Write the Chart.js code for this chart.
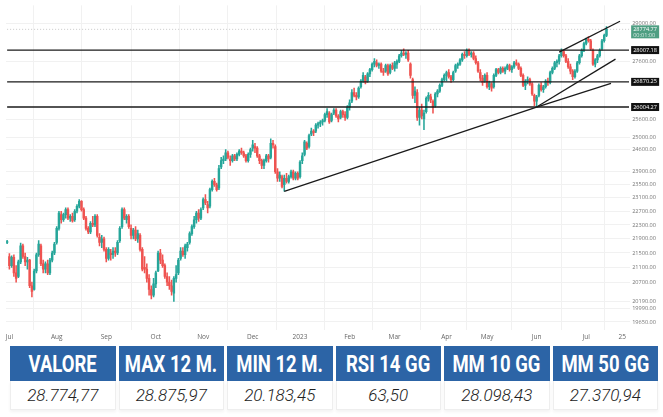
<!DOCTYPE html>
<html>
<head>
<meta charset="utf-8">
<script src="https://cdn.jsdelivr.net/npm/chart.js@4.4.0/dist/chart.umd.min.js"></script>
<style>
  html, body { margin: 0; padding: 0; background: #fff; }
  #wrap { position: relative; width: 663px; height: 417px; overflow: hidden; }
  #box { position: absolute; left: 0; top: 0; width: 663px; height: 345px; }
  #stats { position: absolute; left: 7px; top: 346px; width: 654px; border-collapse: separate; border-spacing: 3.5px 0; table-layout: fixed; }
  #stats th { background: #2c64a6; color: #fff; height: 35px; padding: 0; white-space: nowrap; text-align: center;
    font-family: Roboto, sans-serif; font-weight: bold; font-size: 22px; }
  #stats th span { display: inline-block; margin: 0 -40px; transform: scale(0.84, 1.12); }
  #stats td { height: 28px; padding: 0; text-align: center; color: #222; white-space: nowrap;
    font-family: Roboto, sans-serif; font-weight: 300; font-style: italic; font-size: 17px;
    border: 1px solid #eeeeee; border-top: none; box-shadow: 0 2px 3px rgba(0,0,0,0.05); }
</style>
</head>
<body>
<div id="wrap">
  <div id="box"><canvas id="chart"></canvas></div>
  <table id="stats"><tr id="statHead"></tr><tr id="statBody"></tr></table>
</div>
<script>
// trading calendar (Borsa Italiana), last slots after Jul 14 are empty future space
const holidays = ["2022-08-15", "2022-12-26", "2023-04-07", "2023-04-10", "2023-05-01"];
const firstDay = "2022-06-30";
const lastSlot = "2023-07-28";

// daily OHLC, one line per month (Jun 30 2022 -> Jul 14 2023)
const openV = [
  21800, 21400, 21150, 21380, 20950, 20850, 21250, 21700, 21400, 21250, 21300, 20600, 20500, 21000, 21450, 21700, 21200, 21050, 21200, 20950, 21300, 21500,
  21800, 22200, 22600, 22450, 22600, 22750, 22500, 22550, 22450, 22700, 22850, 23000, 22750, 22500, 22200, 22100, 22350, 22300, 22550, 21950, 21800, 21900,
  21600, 21350, 21500, 21450, 21550, 21500, 21850, 22250, 22750, 22450, 22550, 22200, 22000, 22150, 21900, 22000, 21600, 21100, 21050, 20800, 20500, 20350,
  20650, 21000, 21500, 21300, 21150, 20850, 20700, 20600, 20400, 20800, 20950, 21350, 21550, 21450, 21650, 21800, 22050, 22250, 22450, 22650, 22500,
  22800, 23050, 22900, 22850, 23350, 23600, 23500, 23400, 24050, 24250, 24300, 24500, 24300, 24250, 24400, 24300, 24450, 24550, 24500, 24400, 24250, 24450,
  24650, 24700, 24650, 24400, 24250, 24100, 24250, 24400, 24350, 24800, 24700, 23900, 23700, 23750, 23500, 23700, 23600, 23750, 23900, 23700, 23850,
  23750, 24250, 24450, 24800, 24700, 25100, 25200, 25200, 25400, 25450, 25500, 25550, 25750, 25800, 25550, 25800, 25900, 25700, 25650, 25850, 25750, 25650,
  26000, 26200, 26500, 26400, 26350, 26700, 26900, 27050, 26900, 27150, 27300, 27500, 27550, 27450, 27500, 27250, 27250, 27450, 27200, 27450,
  27350, 27500, 27600, 27800, 27900, 27850, 27900, 27500, 26950, 26400, 26500, 25650, 25900, 25600, 25850, 26300, 26350, 26200, 26050, 26450, 26550, 26750, 26950,
  27100, 27200, 27050, 26950, 27250, 27450, 27500, 27650, 27850, 27800, 28000, 27850, 27900, 27700, 27550, 27200, 27000, 26900,
  27100, 26700, 26800, 26700, 27100, 27300, 27200, 27350, 27250, 27350, 27450, 27300, 27400, 27550, 27500, 27350, 27100, 26750, 26900, 26950, 26800, 26400,
  26200, 26400, 26750, 26600, 26700, 26900, 26850, 27200, 27350, 27550, 27600, 27800, 27950, 27800, 27600, 27400, 27250, 27050, 27250, 27550, 27800, 28000,
  28250, 28400, 28350, 28000, 27500, 27650, 27800, 28050, 28350, 28550
];
const highV = [
  21860, 21480, 21420, 21450, 21150, 21300, 21780, 21750, 21500, 21380, 21320, 20700, 21050, 21500, 21850, 21750, 21300, 21250, 21300, 21350, 21550, 21800,
  22250, 22700, 22700, 22650, 22800, 22800, 22600, 22650, 22750, 22900, 23050, 23020, 22800, 22550, 22250, 22400, 22550, 22600, 22600, 22050, 22000, 21950,
  21650, 21650, 21600, 21650, 21650, 21850, 22250, 22800, 22800, 22600, 22600, 22300, 22200, 22250, 22150, 22050, 21650, 21400, 21200, 20900, 20600, 20800,
  21000, 21550, 21600, 21450, 21200, 20950, 20850, 20750, 20850, 21150, 21350, 21650, 21650, 21750, 21800, 22100, 22300, 22550, 22700, 22750, 22800,
  23100, 23200, 23000, 23400, 23650, 23700, 23550, 24100, 24350, 24400, 24600, 24550, 24400, 24450, 24450, 24500, 24600, 24650, 24550, 24450, 24500, 24650,
  24900, 24800, 24700, 24450, 24300, 24300, 24450, 24450, 24950, 24900, 24750, 24000, 23900, 23800, 23800, 23850, 23800, 23950, 23950, 23900, 23900,
  24250, 24500, 24900, 24850, 25100, 25300, 25250, 25450, 25500, 25550, 25600, 25800, 25950, 25850, 25800, 25950, 25950, 25750, 25900, 25900, 25850, 26050,
  26250, 26600, 26650, 26500, 26700, 26950, 27200, 27100, 27200, 27350, 27550, 27700, 27650, 27550, 27550, 27350, 27500, 27500, 27500, 27550,
  27600, 27650, 27850, 28000, 28050, 27950, 28000, 27550, 27000, 26700, 26600, 26000, 26100, 25900, 26350, 26500, 26450, 26250, 26500, 26600, 26800, 27000, 27150,
  27250, 27300, 27100, 27250, 27500, 27550, 27700, 27900, 27950, 28050, 28050, 27950, 27950, 27800, 27600, 27300, 27100, 27150,
  27200, 26900, 26850, 27150, 27350, 27350, 27400, 27400, 27400, 27500, 27500, 27450, 27600, 27650, 27550, 27400, 27150, 26950, 27050, 27000, 26850, 26450,
  26400, 26800, 26850, 26750, 26950, 27000, 27250, 27400, 27600, 27650, 27850, 28050, 28000, 27850, 27700, 27500, 27300, 27300, 27600, 27850, 28050, 28300,
  28450, 28500, 28400, 28050, 27700, 27850, 28050, 28400, 28600, 28875.97
];
const lowV = [
  21760, 21050, 21100, 20850, 20700, 20820, 21200, 21350, 21150, 21050, 20550, 20300, 20480, 20950, 21400, 21150, 20950, 20950, 20900, 20900, 21250, 21450,
  21750, 22150, 22350, 22400, 22500, 22450, 22400, 22380, 22400, 22650, 22800, 22700, 22450, 22150, 22050, 22050, 22250, 22250, 21950, 21700, 21650, 21550,
  21250, 21300, 21300, 21350, 21400, 21450, 21800, 22200, 22450, 22350, 22200, 21900, 21900, 21850, 21800, 21550, 21000, 20950, 20700, 20350, 20250, 20300,
  20550, 20980, 21200, 21100, 20800, 20600, 20500, 20350, 20183.45, 20700, 20900, 21300, 21400, 21350, 21550, 21750, 22000, 22200, 22350, 22400, 22450,
  22750, 22900, 22650, 22800, 23300, 23450, 23300, 23350, 24000, 24150, 24250, 24300, 24100, 24200, 24250, 24250, 24400, 24450, 24350, 24200, 24200, 24350,
  24550, 24500, 24350, 24150, 24000, 24000, 24200, 24200, 24300, 24650, 23850, 23600, 23600, 23400, 23300, 23550, 23550, 23700, 23650, 23650, 23650,
  23700, 24150, 24400, 24600, 24650, 25050, 25050, 25150, 25300, 25350, 25400, 25500, 25650, 25450, 25500, 25750, 25650, 25500, 25600, 25650, 25550, 25600,
  25900, 26150, 26350, 26250, 26300, 26650, 26850, 26800, 26850, 27050, 27250, 27400, 27400, 27350, 27200, 27100, 27200, 27100, 27150, 27300,
  27250, 27350, 27550, 27750, 27800, 27700, 27600, 27000, 26300, 26150, 25550, 25400, 25600, 25250, 25800, 26200, 26150, 25800, 26000, 26350, 26500, 26700, 26900,
  26900, 27000, 26850, 26900, 27200, 27350, 27450, 27600, 27700, 27750, 27800, 27750, 27650, 27500, 27200, 26900, 26750, 26850,
  26650, 26600, 26550, 26650, 27050, 27150, 27150, 27200, 27150, 27300, 27250, 27200, 27350, 27450, 27300, 27050, 26700, 26600, 26800, 26750, 26400, 26050,
  26004.27, 26350, 26550, 26500, 26650, 26750, 26800, 27150, 27300, 27400, 27500, 27750, 27750, 27550, 27350, 27150, 26950, 27000, 27200, 27500, 27750, 27950,
  28200, 28300, 28000, 27450, 27400, 27550, 27750, 28000, 28300, 28500
];
const closeV = [
  21820, 21150, 21380, 20950, 20800, 21250, 21700, 21400, 21250, 21300, 20600, 20450, 21000, 21450, 21750, 21200, 21050, 21200, 20950, 21300, 21500, 21750,
  22200, 22650, 22450, 22600, 22750, 22500, 22550, 22420, 22700, 22850, 23000, 22750, 22500, 22200, 22100, 22350, 22300, 22550, 22000, 21800, 21900, 21600,
  21350, 21600, 21450, 21550, 21500, 21800, 22200, 22750, 22500, 22550, 22250, 22000, 22150, 21900, 22050, 21600, 21050, 21050, 20800, 20500, 20350, 20650,
  20950, 21500, 21300, 21150, 20850, 20700, 20600, 20450, 20800, 20900, 21300, 21550, 21450, 21700, 21750, 22050, 22250, 22450, 22650, 22500, 22750,
  23050, 22950, 22800, 23350, 23600, 23500, 23350, 24000, 24250, 24300, 24500, 24350, 24250, 24400, 24300, 24450, 24550, 24500, 24400, 24250, 24450, 24600,
  24750, 24650, 24400, 24250, 24100, 24250, 24400, 24300, 24800, 24750, 23900, 23700, 23800, 23450, 23700, 23600, 23750, 23900, 23700, 23850, 23700,
  24200, 24400, 24850, 24650, 25050, 25200, 25150, 25400, 25450, 25500, 25550, 25750, 25850, 25500, 25750, 25900, 25700, 25600, 25850, 25750, 25650, 26000,
  26150, 26500, 26400, 26350, 26650, 26900, 27100, 26850, 27150, 27300, 27500, 27600, 27450, 27500, 27250, 27200, 27450, 27150, 27450, 27350,
  27550, 27600, 27800, 27900, 27850, 27900, 27650, 27100, 26400, 26550, 25650, 25900, 25700, 25800, 26300, 26400, 26250, 26000, 26450, 26550, 26750, 26950, 27100,
  27200, 27050, 26950, 27200, 27450, 27500, 27650, 27850, 27800, 28000, 27850, 27900, 27700, 27550, 27250, 27000, 26850, 27100,
  26700, 26850, 26650, 27100, 27300, 27200, 27350, 27250, 27350, 27450, 27300, 27400, 27550, 27500, 27350, 27100, 26750, 26900, 26950, 26800, 26450, 26200,
  26350, 26750, 26600, 26700, 26900, 26850, 27200, 27350, 27550, 27600, 27800, 27950, 27800, 27600, 27400, 27250, 27050, 27250, 27550, 27800, 28000, 28250,
  28400, 28350, 28050, 27500, 27650, 27800, 28000, 28350, 28550, 28774.77
];

// drawn levels and trend lines
const supportLevels = [28007.18, 26870.25, 26004.27];
const trendLines = [
  [["2022-12-21", 23300], ["2023-06-01", 26004.27]],
  [["2023-06-01", 26004.27], ["2023-07-18", 26820]],
  [["2023-06-01", 26004.27], ["2023-07-20", 27680]],
  [["2023-06-15", 27930], ["2023-07-24", 29080]]
];

// price axis labels
const yTicks = [29000, 27600, 25600, 25000, 24600, 23900, 23500, 23100, 22700, 22300, 21900, 21500, 21100, 20700, 20190, 19990, 19650];
const monthNames = ["Jan", "Feb", "Mar", "Apr", "May", "Jun", "Jul", "Aug", "Sep", "Oct", "Nov", "Dec"];
const extraTicks = [["2023-07-25", "25"]];

// table under the chart
const statLabels = ["VALORE", "MAX 12 M.", "MIN 12 M.", "RSI 14 GG", "MM 10 GG", "MM 50 GG"];
const statValues = ["28.774,77", "28.875,97", "20.183,45", "63,50", "28.098,43", "27.370,94"];

const upColor = "#26a69a";
const downColor = "#ef5350";

const dates = [];
for (let d = new Date(firstDay + "T00:00:00Z"); d <= new Date(lastSlot + "T00:00:00Z"); d.setUTCDate(d.getUTCDate() + 1)) {
  const wd = d.getUTCDay();
  const s = d.toISOString().slice(0, 10);
  if (wd === 0 || wd === 6 || holidays.includes(s)) continue;
  dates.push(s);
}

const tickText = {};
dates.forEach((s, i) => {
  if (i > 0 && s.slice(5, 7) !== dates[i - 1].slice(5, 7)) {
    const m = parseInt(s.slice(5, 7)) - 1;
    tickText[i] = m === 0 ? s.slice(0, 4) : monthNames[m];
  }
});
extraTicks.forEach(([d, t]) => { tickText[dates.indexOf(d)] = t; });
const tickIdx = Object.keys(tickText).map(Number);

const bodies = openV.map((o, i) => [o, closeV[i]]);
const wicks = lowV.map((l, i) => [l, highV[i]]);
const candleColors = openV.map((o, i) => closeV[i] >= o ? upColor : downColor);

const lineSets = [];
supportLevels.forEach(v => {
  lineSets.push({
    type: "line",
    data: [{ x: dates[0], y: v }, { x: dates[dates.length - 1], y: v }],
    borderColor: "#1a1a1a",
    borderWidth: 1.3,
    pointRadius: 0,
    order: 0
  });
});
trendLines.forEach(seg => {
  lineSets.push({
    type: "line",
    data: seg.map(p => ({ x: p[0], y: p[1] })),
    borderColor: "#1a1a1a",
    borderWidth: 1.3,
    pointRadius: 0,
    order: 0
  });
});
const lastClose = closeV[closeV.length - 1];
lineSets.push({
  type: "line",
  data: [{ x: dates[0], y: lastClose }, { x: dates[dates.length - 1], y: lastClose }],
  borderColor: "#c8c8c8",
  borderWidth: 1,
  borderDash: [1, 2],
  pointRadius: 0,
  order: 3
});

// boxes on the price axis
const axisBoxes = {
  id: "axisBoxes",
  afterDraw(chart) {
    const { ctx, chartArea } = chart;
    const y = chart.scales.y;
    const x0 = chartArea.right + 1;
    ctx.save();
    ctx.font = '5.6px "Open Sans"';
    ctx.textBaseline = "middle";
    ctx.textAlign = "left";
    supportLevels.forEach(v => {
      const py = y.getPixelForValue(v);
      ctx.fillStyle = "#111";
      ctx.fillRect(x0, py - 4, 28, 8);
      ctx.fillStyle = "#fff";
      ctx.fillText(v.toFixed(2), x0 + 2, py);
    });
    const py = y.getPixelForValue(lastClose);
    ctx.fillStyle = "#4e9e82";
    ctx.fillRect(x0, py - 4, 28, 13);
    ctx.fillStyle = "#fff";
    ctx.fillText(lastClose.toFixed(2), x0 + 2, py);
    ctx.fillStyle = "rgba(255,255,255,0.75)";
    ctx.fillText("00:01:00", x0 + 2, py + 6);
    ctx.restore();
  }
};

new Chart(document.getElementById("chart"), {
  type: "bar",
  data: {
    labels: dates,
    datasets: [
      { data: wicks, backgroundColor: candleColors, barThickness: 0.9, grouped: false, order: 2 },
      { data: bodies, backgroundColor: candleColors, barThickness: 1.8, grouped: false, order: 1 },
      ...lineSets
    ]
  },
  options: {
    responsive: true,
    maintainAspectRatio: false,
    animation: false,
    layout: { padding: { left: 6, right: 5, top: 5, bottom: 1 } },
    plugins: { legend: { display: false }, tooltip: { enabled: false } },
    scales: {
      x: {
        type: "category",
        grid: { color: "#f1f1f1", drawTicks: false },
        border: { display: false },
        afterBuildTicks: s => { s.ticks = tickIdx.map(v => ({ value: v })); },
        ticks: {
          autoSkip: false,
          maxRotation: 0,
          padding: 3,
          color: "#666",
          font: { family: "Open Sans", size: 6.5 },
          callback: v => tickText[v]
        }
      },
      y: {
        type: "logarithmic",
        position: "right",
        min: 19441,
        max: 29688,
        grid: { color: "#f1f1f1", drawTicks: false },
        border: { display: false },
        afterBuildTicks: s => { s.ticks = yTicks.map(v => ({ value: v })); },
        ticks: {
          autoSkip: false,
          padding: 2,
          color: "#777",
          font: { family: "Open Sans", size: 5.6 },
          callback: v => Number(v).toFixed(2)
        }
      }
    }
  },
  plugins: [axisBoxes]
});

const head = document.getElementById("statHead");
const body = document.getElementById("statBody");
statLabels.forEach((t, i) => {
  const th = document.createElement("th");
  const span = document.createElement("span");
  span.textContent = t;
  th.appendChild(span);
  head.appendChild(th);
  const td = document.createElement("td");
  td.textContent = statValues[i];
  body.appendChild(td);
});
</script>
</body>
</html>
